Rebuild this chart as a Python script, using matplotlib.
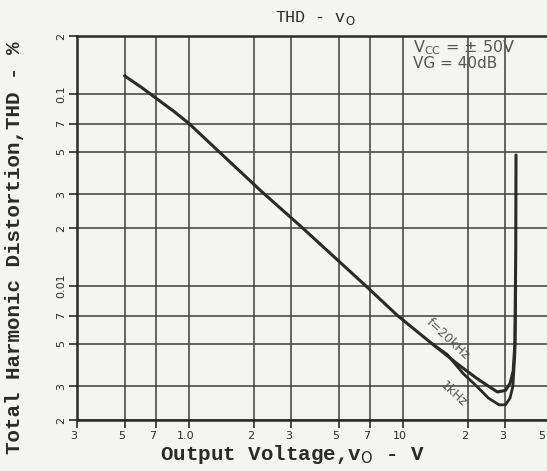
import matplotlib
matplotlib.use('Agg')
import matplotlib.pyplot as plt
import matplotlib.ticker as ticker
import matplotlib.transforms as mtransforms

# main line shared by both curves, then the 20kHz and 1kHz tails
vo_common = [0.5, 0.6, 0.7, 0.85, 1.0, 1.34, 2.18, 3.34, 6.68, 9.4, 13.6]
thd_common = [0.124, 0.108, 0.095, 0.081, 0.07, 0.0515, 0.031, 0.0203, 0.01, 0.007, 0.005]

vo_20k = [18, 22, 25, 27.5, 30, 31.5, 32.6, 33.2, 33.5, 33.6]
thd_20k = [0.0039, 0.0033, 0.0030, 0.0028, 0.00285, 0.0031, 0.0036, 0.005, 0.015, 0.048]

vo_1k = [16, 19, 22, 25, 28, 30, 31.5, 32.5, 33.2, 33.5]
thd_1k = [0.0044, 0.0035, 0.0030, 0.0026, 0.0024, 0.0024, 0.0026, 0.0030, 0.0045, 0.01]

xticks = [0.3, 0.5, 0.7, 1, 2, 3, 5, 7, 10, 20, 30, 50]
xlabels = ['3', '5', '7', '1.0', '2', '3', '5', '7', '10', '2', '3', '5']
yticks = [0.002, 0.003, 0.005, 0.007, 0.01, 0.02, 0.03, 0.05, 0.07, 0.1, 0.2]
ylabels = ['2', '3', '5', '7', '0.01', '2', '3', '5', '7', '0.1', '2']

bg = '#f4f4f2'
ink = '#2a2a2a'
gridc = '#4a4a4a'

fig = plt.figure(figsize=(5.47, 4.71), dpi=100, facecolor=bg)
ax = fig.add_axes([77/547, 1-420/471, 476/547, 384/471])
ax.set_facecolor(bg)
ax.set_xscale('log')
ax.set_yscale('log')
ax.set_xlim(0.3, 50)
ax.set_ylim(0.002, 0.2)

ax.xaxis.set_major_locator(ticker.FixedLocator(xticks))
ax.xaxis.set_major_formatter(ticker.FixedFormatter(xlabels))
ax.xaxis.set_minor_locator(ticker.NullLocator())
ax.yaxis.set_major_locator(ticker.FixedLocator(yticks))
ax.yaxis.set_major_formatter(ticker.FixedFormatter(ylabels))
ax.yaxis.set_minor_locator(ticker.NullLocator())

ax.grid(True, color=gridc, lw=1.4, alpha=0.85)
for s in ax.spines.values():
    s.set_color(ink)
    s.set_linewidth(1.8)
ax.tick_params(axis='both', direction='out', length=6, width=1.2, color=ink,
               labelsize=8, labelcolor=ink, pad=2)
for lab in ax.get_yticklabels():
    lab.set_rotation(90)
    lab.set_va('center')

# x labels sit a little left of their grid lines; the last one is pulled inside the figure
shift = mtransforms.ScaledTranslation(-3/100, 0, fig.dpi_scale_trans)
xlabs = ax.get_xticklabels()
for lab in xlabs:
    lab.set_transform(lab.get_transform() + shift)
last_shift = mtransforms.ScaledTranslation(-8/100, 0, fig.dpi_scale_trans)
xlabs[-1].set_transform(xlabs[-1].get_transform() + last_shift)

ax.plot(vo_common + vo_20k, thd_common + thd_20k, color=ink, lw=2.2, solid_capstyle='round')
ax.plot(vo_common[-1:] + vo_1k, thd_common[-1:] + thd_1k, color=ink, lw=2.0, solid_capstyle='round')

ax.text(16.1, 0.0053, 'f=20kHz', rotation=-43, ha='center', va='center',
        fontsize=9, color='#555555', family='DejaVu Sans')
ax.text(17.1, 0.00274, '1kHz', rotation=-43, ha='center', va='center',
        fontsize=9, color='#555555', family='DejaVu Sans')

ax.text(0.706, 0.969, r'V$_{\rm CC}$ = $\pm$ 50V', transform=ax.transAxes, ha='left', va='center',
        fontsize=11.5, color='#555555', family='DejaVu Sans')
ax.text(0.706, 0.928, 'VG = 40dB', transform=ax.transAxes, ha='left', va='center',
        fontsize=11, color='#555555', family='DejaVu Sans')

fig.text(315/547, 1-18/471, r'THD - v$_{\rm O}$', ha='center', va='center',
         fontsize=12, color=ink, family='Liberation Mono')
fig.text(292/547, 1-455/471, r'Output Voltage,v$_{\rm O}$ - V', ha='center', va='center',
         fontsize=15, color=ink, family='Liberation Mono', weight='bold')
fig.text(15/547, 1-248/471, 'Total Harmonic Distortion,THD - %', ha='center', va='center',
         rotation=90, fontsize=15, color=ink, family='Liberation Mono', weight='bold')

fig.savefig('out.png', dpi=100, facecolor=bg)
